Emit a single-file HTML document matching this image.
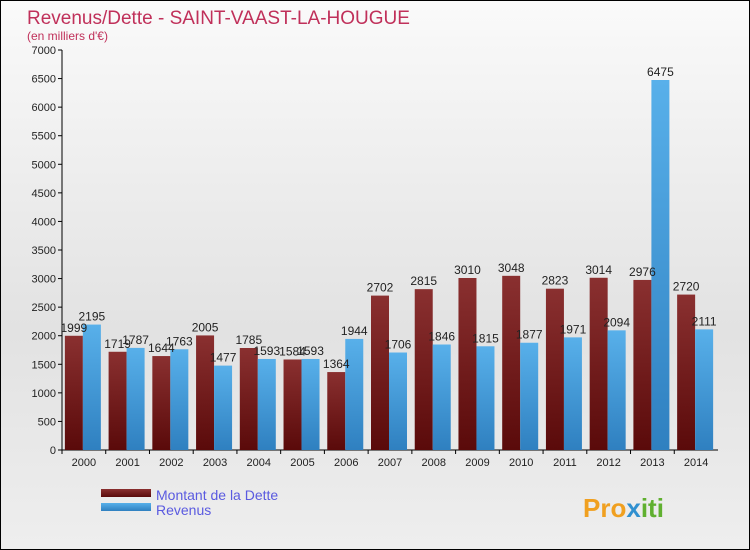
<!DOCTYPE html>
<html><head><meta charset="utf-8"><style>
body{margin:0}
#c{position:relative;width:748px;height:548px;border:1px solid #000;background:linear-gradient(#fafafa,#e2e2e2 60%,#eeeeee);font-family:"Liberation Sans",sans-serif;overflow:hidden}
</style></head><body>
<div id="c">
<svg id="s" width="748" height="548" xmlns="http://www.w3.org/2000/svg">
<defs>
<linearGradient id="gd" x1="0" y1="0" x2="0" y2="1"><stop offset="0" stop-color="#8a3030"/><stop offset="1" stop-color="#5a0a0a"/></linearGradient>
<linearGradient id="gr" x1="0" y1="0" x2="0" y2="1"><stop offset="0" stop-color="#58b0ea"/><stop offset="1" stop-color="#2f80c0"/></linearGradient>
</defs>
<text x="26" y="23" font-size="19" fill="#c0305a">Revenus/Dette - SAINT-VAAST-LA-HOUGUE</text>
<text x="26" y="39" font-size="12" fill="#c0305a">(en milliers d'€)</text>
<g id="ax"></g><g id="bars"></g>
<rect x="100" y="488" width="50" height="8" fill="url(#gd)"/>
<rect x="100" y="502" width="50" height="8" fill="url(#gr)"/>
<text x="155" y="499" font-size="14" fill="#5a5ae0">Montant de la Dette</text>
<text x="155" y="514" font-size="14" fill="#5a5ae0">Revenus</text>
<text x="582" y="516" font-size="26" font-weight="bold" fill="#f0a020">Pro<tspan fill="#3090d0">x</tspan><tspan fill="#60b030">iti</tspan></text>
</svg></div>
<script>
const years=["2000","2001","2002","2003","2004","2005","2006","2007","2008","2009","2010","2011","2012","2013","2014"];
const debt=[1999,1719,1644,2005,1785,1584,1364,2702,2815,3010,3048,2823,3014,2976,2720];
const revenue=[2195,1787,1763,1477,1593,1593,1944,1706,1846,1815,1877,1971,2094,6475,2111];
const yTicks=[0,500,1000,1500,2000,2500,3000,3500,4000,4500,5000,5500,6000,6500,7000];
const NS="http://www.w3.org/2000/svg";
const x0=61,x1=717,yb=449,yt=49,ymax=7000;
const y=v=>yb-(v/ymax)*(yb-yt);
const gw=(x1-x0)/years.length;
const gx=i=>x0+i*gw;
function mk(t,a,p){const e=document.createElementNS(NS,t);for(const k in a)e.setAttribute(k,a[k]);p.appendChild(e);return e;}
const ax=document.getElementById('ax'),bars=document.getElementById('bars');
const yl=mk('line',{x1:x0,x2:x0,y1:yt,y2:yb,stroke:'#000'},ax);


const xl=mk('line',{x1:x0,x2:x1,y1:yb,y2:yb,stroke:'#000'},ax);


yTicks.forEach(v=>{
 mk('line',{x1:x0-4,x2:x0,y1:y(v),y2:y(v),stroke:'#000'},ax);
 const t=mk('text',{x:x0-6,y:y(v)+4,'font-size':11,'text-anchor':'end',fill:'#222'},ax);t.textContent=v;
 
 
});
years.forEach((yr,i)=>{
 const cx=gx(i)+gw/2;
 mk('line',{x1:gx(i),x2:gx(i),y1:yb,y2:yb+4,stroke:'#000'},ax);
 const t=mk('text',{x:cx,y:yb+16,'font-size':11,'text-anchor':'middle',fill:'#222'},ax);t.textContent=yr;
 
 
 const bw=18;
 const b1=mk('rect',{x:cx-bw-1,y:y(debt[i]),width:bw,height:yb-y(debt[i]),fill:'url(#gd)'},bars);
 
 
 const b2=mk('rect',{x:cx-1,y:y(revenue[i]),width:bw,height:yb-y(revenue[i]),fill:'url(#gr)'},bars);
 
 
 const l1=mk('text',{x:cx-bw/2-1,y:y(debt[i])-4,'font-size':12,'text-anchor':'middle',fill:'#222'},bars);l1.textContent=debt[i];
 
 
 const l2=mk('text',{x:cx+bw/2-1,y:y(revenue[i])-4,'font-size':12,'text-anchor':'middle',fill:'#222'},bars);l2.textContent=revenue[i];
 
 
});
</script>
</body></html>
